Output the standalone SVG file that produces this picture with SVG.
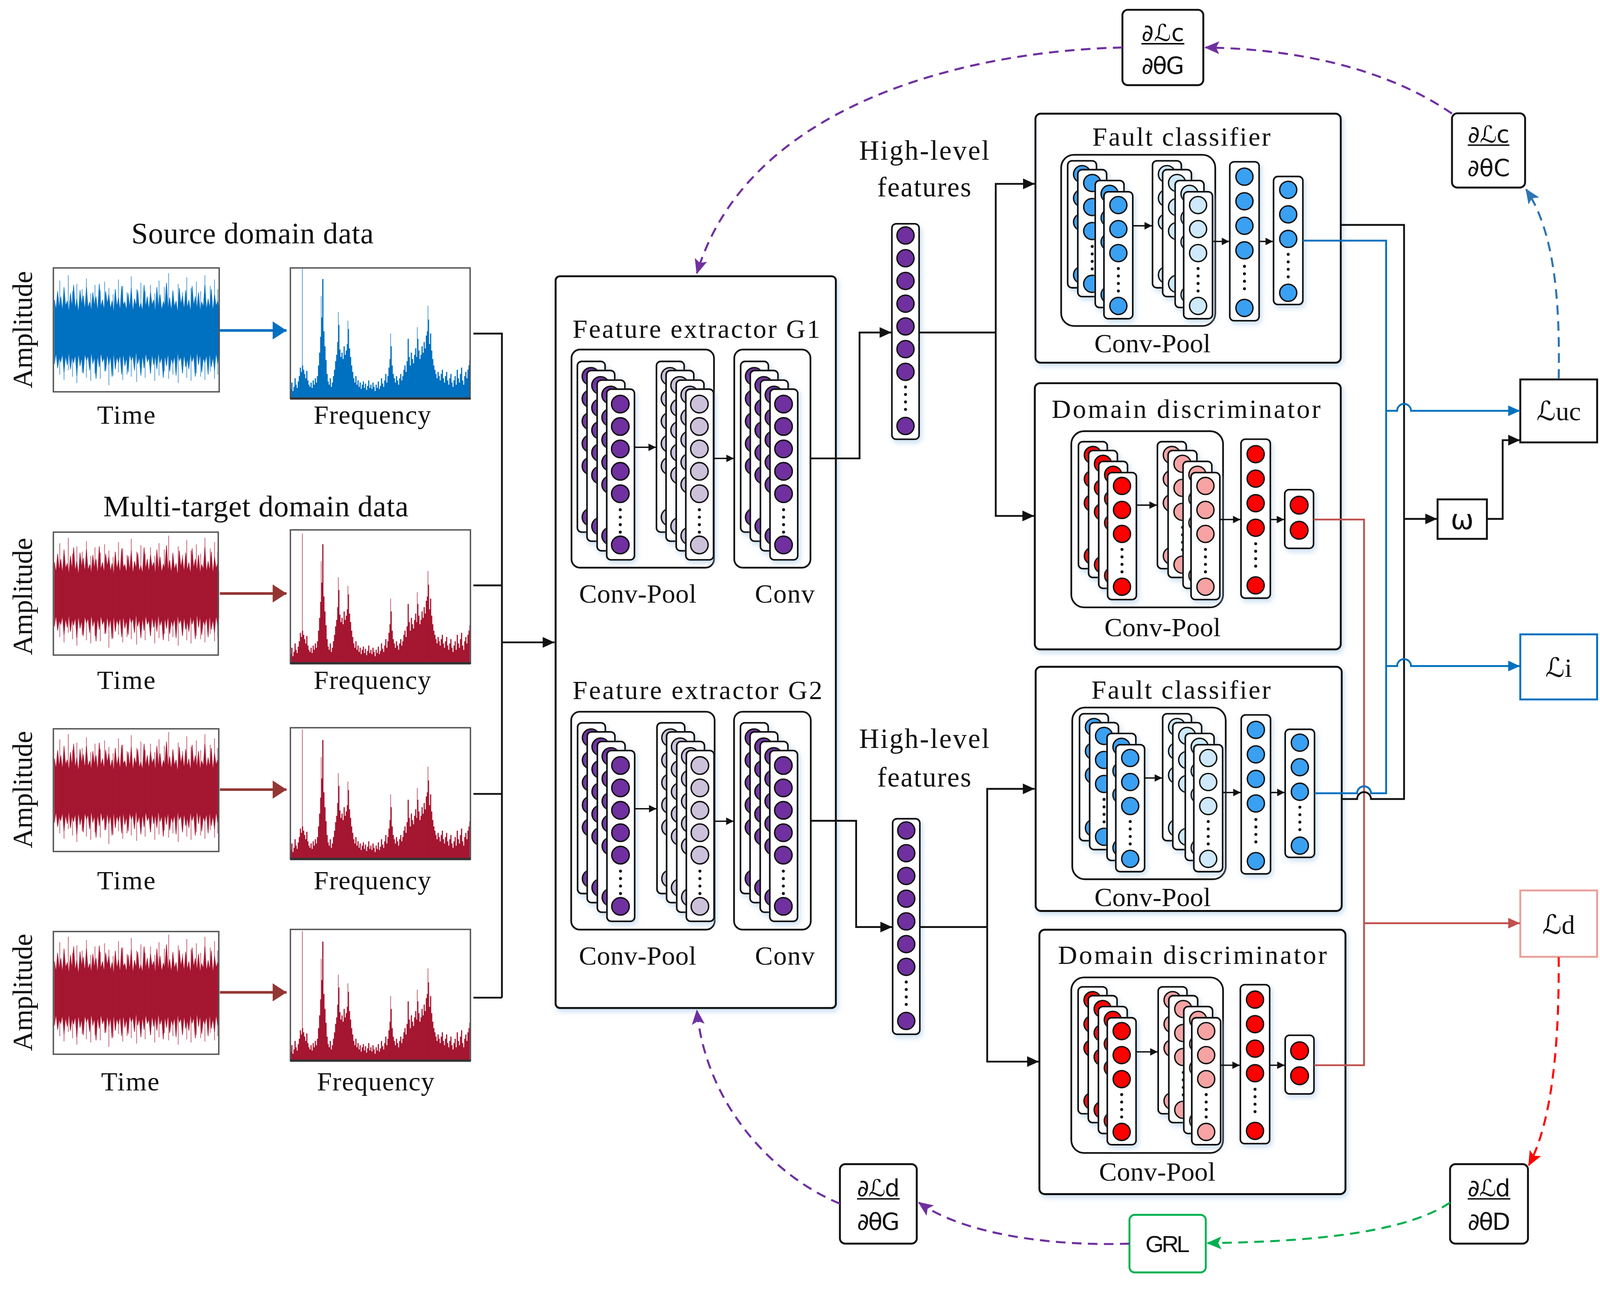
<svg xmlns="http://www.w3.org/2000/svg" width="4284" height="3303" viewBox="0 0 4284 3303">
<defs>
<style>
.t{font-family:"Liberation Serif","Times New Roman",serif;fill:#111;text-anchor:middle}
.s{font-family:"DejaVu Sans","Noto Sans",sans-serif;fill:#111;text-anchor:middle}
.a{font-family:"Liberation Sans",Arial,sans-serif;fill:#111;text-anchor:middle}
.sc{font-family:"DejaVu Serif","DejaVu Sans",serif;font-style:italic}
.cr{fill:#fff;stroke:#111;stroke-width:1.5;filter:url(#sh)}
.nd{stroke:#111;stroke-width:1.3}
.dt{fill:#111}
.box{fill:#fff;stroke:#111;stroke-width:1.8;filter:url(#sh)}
.ib{fill:none;stroke:#111;stroke-width:1.6}
.k{fill:none;stroke:#111;stroke-width:1.7}
.kb{fill:none;stroke:#0070c0;stroke-width:1.7}
.kr{fill:none;stroke:#c0504d;stroke-width:1.7}
.ia{fill:none;stroke:#111;stroke-width:1.3}
.d{fill:none;stroke-width:1.9;stroke-dasharray:9 6}
.pb{fill:none;stroke:#555;stroke-width:1.3}
.ax{stroke:#333;stroke-width:2.2}
.fb{stroke:#111;stroke-width:1.4}
</style>
<filter id="sh" x="-50%" y="-20%" width="200%" height="140%">
<feDropShadow dx="1.5" dy="2.5" stdDeviation="2.5" flood-color="#9dc3e6" flood-opacity="0.55"/>
</filter>
<marker id="mk" markerUnits="userSpaceOnUse" markerWidth="12" markerHeight="10" refX="11" refY="5" orient="auto" overflow="visible"><path d="M0,0L11,5L0,10z" fill="#111"/></marker>
<marker id="mks" markerUnits="userSpaceOnUse" markerWidth="8" markerHeight="7" refX="7" refY="3.5" orient="auto" overflow="visible"><path d="M0,0L7,3.5L0,7z" fill="#111"/></marker>
<marker id="mkb" markerUnits="userSpaceOnUse" markerWidth="12" markerHeight="10" refX="11" refY="5" orient="auto" overflow="visible"><path d="M0,0L11,5L0,10z" fill="#0070c0"/></marker>
<marker id="mkr" markerUnits="userSpaceOnUse" markerWidth="12" markerHeight="10" refX="11" refY="5" orient="auto" overflow="visible"><path d="M0,0L11,5L0,10z" fill="#c0504d"/></marker>
<marker id="mg1" markerUnits="userSpaceOnUse" markerWidth="14" markerHeight="17" refX="13" refY="8.5" orient="auto" overflow="visible"><path d="M0,0L13,8.5L0,17z" fill="#0070c0"/></marker>
<marker id="mg2" markerUnits="userSpaceOnUse" markerWidth="14" markerHeight="17" refX="13" refY="8.5" orient="auto" overflow="visible"><path d="M0,0L13,8.5L0,17z" fill="#943634"/></marker>
<marker id="mdp" markerUnits="userSpaceOnUse" markerWidth="15" markerHeight="12" refX="13" refY="6" orient="auto" overflow="visible"><path d="M0,0L14,6L0,12L3,6z" fill="#7030a0"/></marker>
<marker id="mdb" markerUnits="userSpaceOnUse" markerWidth="15" markerHeight="12" refX="13" refY="6" orient="auto" overflow="visible"><path d="M0,0L14,6L0,12L3,6z" fill="#2e75b6"/></marker>
<marker id="mdr" markerUnits="userSpaceOnUse" markerWidth="15" markerHeight="12" refX="13" refY="6" orient="auto" overflow="visible"><path d="M0,0L14,6L0,12L3,6z" fill="#ff0000"/></marker>
<marker id="mdg" markerUnits="userSpaceOnUse" markerWidth="15" markerHeight="12" refX="13" refY="6" orient="auto" overflow="visible"><path d="M0,0L14,6L0,12L3,6z" fill="#00b050"/></marker>

<g id="cG">
<rect class="cr" width="26" height="160" rx="4"/>
<circle class="nd" cx="12.7" cy="14" r="8.2"/><circle class="nd" cx="12.7" cy="35" r="8.2"/><circle class="nd" cx="12.7" cy="56" r="8.2"/><circle class="nd" cx="12.7" cy="77" r="8.2"/><circle class="nd" cx="12.7" cy="98" r="8.2"/>
<circle class="dt" cx="12.7" cy="113" r="1.4"/><circle class="dt" cx="12.7" cy="120" r="1.4"/><circle class="dt" cx="12.7" cy="127" r="1.4"/><circle class="dt" cx="12.7" cy="134" r="1.4"/>
<circle class="nd" cx="12.7" cy="146" r="8.2"/>
</g>
<g id="sG"><use href="#cG"/><use href="#cG" x="9" y="8.5"/><use href="#cG" x="18.5" y="17.5"/><use href="#cG" x="27.5" y="26"/></g>
<g id="cS">
<rect class="cr" width="27" height="119" rx="4"/>
<circle class="nd" cx="13.5" cy="12.5" r="8"/><circle class="nd" cx="13.5" cy="35" r="8"/><circle class="nd" cx="13.5" cy="57.5" r="8"/>
<circle class="dt" cx="13.5" cy="72" r="1.4"/><circle class="dt" cx="13.5" cy="79" r="1.4"/><circle class="dt" cx="13.5" cy="86" r="1.4"/><circle class="dt" cx="13.5" cy="93" r="1.4"/>
<circle class="nd" cx="13.5" cy="107" r="8"/>
</g>
<g id="sF1"><use href="#cS"/><use href="#cS" x="9.5" y="8.3"/><use href="#cS" x="25.8" y="18.5"/><use href="#cS" x="34" y="29"/></g>
<g id="sF2"><use href="#cS"/><use href="#cS" x="9.5" y="8.3"/><use href="#cS" x="21.2" y="18.5"/><use href="#cS" x="29.2" y="29"/></g>
<g id="sD1"><use href="#cS"/><use href="#cS" x="9.5" y="8.3"/><use href="#cS" x="19" y="18.5"/><use href="#cS" x="27.3" y="29"/></g>
<g id="sD2"><use href="#cS"/><use href="#cS" x="10" y="8.3"/><use href="#cS" x="24" y="18.5"/><use href="#cS" x="31.5" y="29"/></g>
<g id="c3">
<rect class="cr" width="27.5" height="149" rx="4"/>
<circle class="nd" cx="13.75" cy="14" r="8"/><circle class="nd" cx="13.75" cy="37" r="8"/><circle class="nd" cx="13.75" cy="60" r="8"/><circle class="nd" cx="13.75" cy="83" r="8"/>
<circle class="dt" cx="13.75" cy="98" r="1.4"/><circle class="dt" cx="13.75" cy="105" r="1.4"/><circle class="dt" cx="13.75" cy="112" r="1.4"/><circle class="dt" cx="13.75" cy="119" r="1.4"/>
<circle class="nd" cx="13.75" cy="137" r="8"/>
</g>
<g id="c4">
<rect class="cr" width="27.5" height="120" rx="4"/>
<circle class="nd" cx="13.75" cy="12.5" r="8"/><circle class="nd" cx="13.75" cy="35.5" r="8"/><circle class="nd" cx="13.75" cy="58.5" r="8"/>
<circle class="dt" cx="13.75" cy="73" r="1.4"/><circle class="dt" cx="13.75" cy="80" r="1.4"/><circle class="dt" cx="13.75" cy="87" r="1.4"/><circle class="dt" cx="13.75" cy="94" r="1.4"/>
<circle class="nd" cx="13.75" cy="109" r="8"/>
</g>
<g id="c2">
<rect class="cr" width="27" height="55" rx="4"/>
<circle class="nd" cx="13.5" cy="14.5" r="8.3"/><circle class="nd" cx="13.5" cy="38" r="8.3"/>
</g>
<g id="cH">
<rect class="cr" width="25.5" height="202" rx="4"/>
<circle class="nd" cx="12.75" cy="11" r="8"/><circle class="nd" cx="12.75" cy="32.3" r="8"/><circle class="nd" cx="12.75" cy="53.6" r="8"/><circle class="nd" cx="12.75" cy="74.9" r="8"/><circle class="nd" cx="12.75" cy="96.2" r="8"/><circle class="nd" cx="12.75" cy="117.5" r="8"/><circle class="nd" cx="12.75" cy="138.8" r="8"/>
<circle class="dt" cx="12.75" cy="153" r="1.4"/><circle class="dt" cx="12.75" cy="160" r="1.4"/><circle class="dt" cx="12.75" cy="167" r="1.4"/><circle class="dt" cx="12.75" cy="174" r="1.4"/>
<circle class="nd" cx="12.75" cy="189.5" r="8"/>
</g>

<g id="wv">
<polygon stroke-width="0.5" points="0,-30 1.5,-20 3,-38 4.5,-22 6,-33 7.5,-19 9,-41 10.5,-24 12,-29 13.5,-18 15,-36 16.5,-23 18,-44 19.5,-21 21,-31 22.5,-17 24,-39 25.5,-25 27,-34 28.5,-20 30,-42 31.5,-22 33,-28 34.5,-19 36,-37 37.5,-24 39,-33 40.5,-18 42,-45 43.5,-23 45,-30 46.5,-20 48,-38 49.5,-26 51,-35 52.5,-21 54,-29 55.5,-17 57,-40 58.5,-23 60,-32 61.5,-19 63,-43 64.5,-25 66,-28 67.5,-20 69,-36 70.5,-22 72,-41 73.5,-18 75,-31 76.5,-24 78,-39 79.5,-21 81,-27 82.5,-19 84,-44 85.5,-23 87,-33 88.5,-20 90,-37 91.5,-25 93,-30 94.5,-18 96,-42 97.5,-22 99,-35 100.5,-20 102,-28 103.5,-24 105,-46 106.5,-21 108,-32 109.5,-19 111,-38 112.5,-23 114,-29 115.5,-17 117,-41 118.5,-25 120,-34 121.5,-20 123,-39 124.5,-22 126,-30 127.5,-18 129,-43 130.5,-24 132,-33 133.5,-21 135,-37 136.5,-19 138,-28 139.5,-23 141,-44 142.5,-20 144,-31 145.5,-22 147,-40 148.5,-18 150,-35 151.5,-24 153,-29 154,-21 154,22 153,30 151.5,19 150,36 148.5,23 147,33 145.5,18 144,40 142.5,21 141,29 139.5,24 138,38 136.5,20 135,31 133.5,17 132,42 130.5,22 129,28 127.5,19 126,35 124.5,25 123,33 121.5,20 120,39 118.5,23 117,27 115.5,18 114,41 112.5,22 111,30 109.5,24 108,37 106.5,19 105,32 103.5,21 102,43 100.5,23 99,29 97.5,18 96,35 94.5,22 93,31 91.5,20 90,39 88.5,24 87,28 85.5,19 84,34 82.5,21 81,41 79.5,23 78,30 76.5,17 75,36 73.5,22 72,27 70.5,20 69,38 67.5,24 66,32 64.5,19 63,40 61.5,21 60,29 58.5,23 57,35 55.5,18 54,42 52.5,22 51,31 49.5,20 48,37 46.5,24 45,28 43.5,19 42,33 40.5,21 39,44 37.5,23 36,30 34.5,18 33,36 31.5,22 30,27 28.5,20 27,39 25.5,24 24,32 22.5,19 21,41 19.5,21 18,29 16.5,23 15,35 13.5,18 12,31 10.5,22 9,38 7.5,20 6,28 4.5,24 3,34 1.5,19 0,30"/>
<path fill="none" stroke-width="0.8" opacity="0.6" d="M5,-48V40M9,-42V45M13,-53V36M17,-38V42M21,-45V48M26,-40V38M30,-50V43M34,-36V46M38,-44V39M43,-39V44M47,-47V37M51,-41V50M55,-35V41M60,-49V38M64,-43V45M68,-37V40M72,-52V42M77,-40V47M81,-46V36M85,-38V43M90,-44V39M94,-36V46M98,-48V41M103,-42V37M107,-55V44M111,-39V40M116,-45V48M120,-37V38M124,-51V43M128,-41V46M133,-47V39M137,-38V42M141,-53V45M146,-43V37M150,-49V44M153,-40V40"/>
</g>
<g id="sp">
<path fill="none" stroke-width="1.1" d="M0,0v-8M1,0v-14M2,0v-6M3,0v-10M4,0v-18M5,0v-12M6,0v-9M7,0v-15M8,0v-20M9,0v-28M10,0v-24M11,0v-30M12,0v-26M13,0v-22M14,0v-18M15,0v-25M16,0v-16M17,0v-12M18,0v-10M19,0v-14M20,0v-9M21,0v-16M22,0v-12M23,0v-18M24,0v-14M25,0v-20M26,0v-30M27,0v-42M28,0v-57M29,0v-75M30,0v-111M31,0v-62M32,0v-48M33,0v-35M34,0v-22M35,0v-15M36,0v-12M37,0v-18M38,0v-10M39,0v-14M40,0v-20M41,0v-26M42,0v-34M43,0v-40M44,0v-52M45,0v-68M46,0v-45M47,0v-38M48,0v-42M49,0v-36M50,0v-48M51,0v-40M52,0v-44M53,0v-50M54,0v-64M55,0v-46M56,0v-38M57,0v-30M58,0v-24M59,0v-18M60,0v-14M61,0v-20M62,0v-12M63,0v-16M64,0v-10M65,0v-14M66,0v-8M67,0v-12M68,0v-15M69,0v-9M70,0v-13M71,0v-7M72,0v-11M73,0v-16M74,0v-9M75,0v-12M76,0v-8M77,0v-14M78,0v-10M79,0v-6M80,0v-12M81,0v-9M82,0v-15M83,0v-8M84,0v-11M85,0v-18M86,0v-13M87,0v-10M88,0v-16M89,0v-22M90,0v-14M91,0v-20M92,0v-28M93,0v-36M94,0v-48M95,0v-30M96,0v-22M97,0v-18M98,0v-14M99,0v-20M100,0v-16M101,0v-12M102,0v-18M103,0v-22M104,0v-16M105,0v-20M106,0v-26M107,0v-30M108,0v-24M109,0v-34M110,0v-55M111,0v-38M112,0v-30M113,0v-42M114,0v-36M115,0v-32M116,0v-40M117,0v-46M118,0v-38M119,0v-55M120,0v-44M121,0v-36M122,0v-40M123,0v-48M124,0v-42M125,0v-52M126,0v-46M127,0v-58M128,0v-62M129,0v-73M130,0v-50M131,0v-60M132,0v-44M133,0v-36M134,0v-30M135,0v-26M136,0v-22M137,0v-18M138,0v-24M139,0v-20M140,0v-16M141,0v-22M142,0v-26M143,0v-18M144,0v-14M145,0v-20M146,0v-24M147,0v-16M148,0v-12M149,0v-18M150,0v-22M151,0v-14M152,0v-10M153,0v-16M154,0v-20M155,0v-12M156,0v-26M157,0v-18M158,0v-14M159,0v-22M160,0v-28M161,0v-16M162,0v-12M163,0v-20M164,0v-24M165,0v-18M166,0v-26M167,0v-30"/>
<path fill="none" stroke-width="0.8" opacity="0.6" d="M10.8,0V-121M28.5,0v-95M44.5,0v-80M53.5,0v-72M93.5,0v-60M118.5,0v-66M128.5,0v-86M167.5,0v-35"/>
</g>
</defs>
<rect width="4284" height="3303" fill="#fff"/>
<g transform="scale(2.73214)">

<g id="source-data">
<text class="t" x="236.6" y="228" font-size="28" textLength="227">Source domain data</text>
<text class="t" font-size="26" transform="translate(30,309) rotate(-90)" textLength="110">Amplitude</text>
<use href="#wv" x="51" y="311" fill="#0070c0" stroke="#0070c0"/>
<rect class="pb" x="50" y="251.1" width="155.4" height="116.1"/>
<use href="#sp" x="272.5" y="372.5" stroke="#0070c0"/>
<rect class="pb" x="272.1" y="251.1" width="168.4" height="122.3"/>
<line class="ax" x1="272" y1="373.4" x2="441" y2="373.4"/>
<path d="M206,309.7H268.5" stroke="#0070c0" stroke-width="2.4" fill="none" marker-end="url(#mg1)"/>
<text class="t" x="118.3" y="397.2" font-size="25" textLength="54.6">Time</text>
<text class="t" x="348.9" y="397.2" font-size="25" textLength="110">Frequency</text>
</g>

<g id="target-data-1">
<text class="t" x="239.7" y="484" font-size="28" textLength="286">Multi-target domain data</text>
<text class="t" font-size="26" transform="translate(30,559) rotate(-90)" textLength="110">Amplitude</text>
<use href="#wv" x="51" y="557" fill="#a51631" stroke="#a51631"/>
<rect class="pb" x="50" y="498.7" width="154.5" height="115.2"/>
<use href="#sp" x="272.5" y="621" stroke="#a51631"/>
<rect class="pb" x="272.1" y="496.6" width="168.7" height="125"/>
<line class="ax" x1="272" y1="621.6" x2="441" y2="621.6"/>
<path d="M206,556.2H268.5" stroke="#943634" stroke-width="2.4" fill="none" marker-end="url(#mg2)"/>
<text class="t" x="118.3" y="645.8" font-size="25" textLength="54.6">Time</text>
<text class="t" x="348.9" y="645.8" font-size="25" textLength="110">Frequency</text>
</g>

<g id="target-data-2">
<text class="t" font-size="26" transform="translate(30,740) rotate(-90)" textLength="110">Amplitude</text>
<use href="#wv" x="51" y="741" fill="#a51631" stroke="#a51631"/>
<rect class="pb" x="50" y="683" width="155" height="115"/>
<use href="#sp" x="272.5" y="804.5" stroke="#a51631"/>
<rect class="pb" x="272.1" y="682" width="168.7" height="123"/>
<line class="ax" x1="272" y1="805" x2="441" y2="805"/>
<path d="M206,740H268.5" stroke="#943634" stroke-width="2.4" fill="none" marker-end="url(#mg2)"/>
<text class="t" x="118.3" y="833.5" font-size="25" textLength="54.6">Time</text>
<text class="t" x="348.9" y="833.5" font-size="25" textLength="110">Frequency</text>
</g>

<g id="target-data-3">
<text class="t" font-size="26" transform="translate(30,930) rotate(-90)" textLength="110">Amplitude</text>
<use href="#wv" x="51" y="931" fill="#a51631" stroke="#a51631"/>
<rect class="pb" x="50" y="873" width="155" height="115"/>
<use href="#sp" x="272.5" y="993.5" stroke="#a51631"/>
<rect class="pb" x="272.1" y="871" width="168.7" height="123"/>
<line class="ax" x1="272" y1="994" x2="441" y2="994"/>
<path d="M206,930H268.5" stroke="#943634" stroke-width="2.4" fill="none" marker-end="url(#mg2)"/>
<text class="t" x="122" y="1022" font-size="25" textLength="54.6">Time</text>
<text class="t" x="352" y="1022" font-size="25" textLength="110">Frequency</text>
</g>

<g id="feature-extractor">
<rect class="box" x="520.6" y="258.9" width="262.6" height="685.8" rx="4"/>
<text class="t" x="652.5" y="316.5" font-size="25" textLength="232">Feature extractor G1</text>
<rect class="ib" x="535.5" y="327.6" width="133.5" height="204.4" rx="8"/>
<rect class="ib" x="688" y="327.6" width="71.4" height="204.4" rx="8"/>
<use href="#sG" x="541" y="338.7" fill="#7030a0"/>
<use href="#sG" x="615.1" y="338.7" fill="#ccc1da"/>
<use href="#sG" x="694" y="338.7" fill="#7030a0"/>
<path class="ia" d="M594.5,419.2H614.6" marker-end="url(#mks)"/>
<path class="ia" d="M668.6,429.6H687.6" marker-end="url(#mks)"/>
<text class="t" x="597.6" y="564.9" font-size="25" textLength="110">Conv-Pool</text>
<text class="t" x="735.3" y="564.9" font-size="25" textLength="56">Conv</text>
<text class="t" x="653.5" y="655.3" font-size="25" textLength="234">Feature extractor G2</text>
<rect class="ib" x="535.2" y="667" width="134.4" height="204.2" rx="8"/>
<rect class="ib" x="687.8" y="667" width="71.9" height="204.2" rx="8"/>
<use href="#sG" x="541.2" y="677.4" fill="#7030a0"/>
<use href="#sG" x="615.6" y="677.4" fill="#ccc1da"/>
<use href="#sG" x="693.8" y="677.4" fill="#7030a0"/>
<path class="ia" d="M594.7,757.9H615.1" marker-end="url(#mks)"/>
<path class="ia" d="M669,769.6H687.4" marker-end="url(#mks)"/>
<text class="t" x="597.4" y="903.9" font-size="25" textLength="110">Conv-Pool</text>
<text class="t" x="735.4" y="903.9" font-size="25" textLength="56">Conv</text>
</g>

<g id="high-level-features-1">
<text class="t" x="866" y="149.6" font-size="26" textLength="122">High-level</text>
<text class="t" x="866" y="184" font-size="26" textLength="88">features</text>
<use href="#cH" x="835.7" y="209.7" fill="#7030a0"/>
</g>
<g id="high-level-features-2">
<text class="t" x="866" y="700.8" font-size="26" textLength="122">High-level</text>
<text class="t" x="866" y="737" font-size="26" textLength="88">features</text>
<use href="#cH" x="836.4" y="767.3" fill="#7030a0"/>
</g>

<g id="fault-classifier-1">
<rect class="box" x="970.2" y="106.5" width="286.1" height="233.4" rx="5"/>
<text class="t" x="1107" y="136.4" font-size="25" textLength="167">Fault classifier</text>
<rect class="ib" x="994.3" y="145.1" width="144.4" height="160.4" rx="12"/>
<use href="#sF1" x="1000.4" y="150.7" fill="#3aa0f2"/>
<use href="#sF2" x="1079.9" y="150.7" fill="#cde9fb"/>
<use href="#c3" x="1152.3" y="151.6" fill="#3aa0f2"/>
<use href="#c4" x="1193.3" y="165.4" fill="#3aa0f2"/>
<path class="ia" d="M1061.4,211.6H1079.4" marker-end="url(#mks)"/>
<path class="ia" d="M1136.1,226.3H1151.8" marker-end="url(#mks)"/>
<path class="ia" d="M1179.8,226.3H1192.8" marker-end="url(#mks)"/>
<text class="t" x="1079.9" y="330.1" font-size="25" textLength="109">Conv-Pool</text>
</g>

<g id="domain-discriminator-1">
<rect class="box" x="969.6" y="359.1" width="286.7" height="249.5" rx="5"/>
<text class="t" x="1111.4" y="391.5" font-size="25" textLength="252">Domain discriminator</text>
<rect class="ib" x="1003.8" y="404.1" width="142.2" height="165.1" rx="12"/>
<use href="#sD1" x="1010.5" y="413.9" fill="#ff0000"/>
<use href="#sD2" x="1084.5" y="413.9" fill="#f7a3a3"/>
<use href="#c3" x="1162.8" y="411.6" fill="#ff0000"/>
<use href="#c2" x="1203.8" y="458.9" fill="#ff0000"/>
<path class="ia" d="M1064.8,473.4H1084" marker-end="url(#mks)"/>
<path class="ia" d="M1143,486.9H1162.3" marker-end="url(#mks)"/>
<path class="ia" d="M1190.3,486.9H1203.3" marker-end="url(#mks)"/>
<text class="t" x="1089.3" y="596.4" font-size="25" textLength="109">Conv-Pool</text>
</g>

<g id="fault-classifier-2">
<rect class="box" x="970.4" y="624.9" width="286.8" height="228.8" rx="5"/>
<text class="t" x="1106.6" y="654.7" font-size="25" textLength="168">Fault classifier</text>
<rect class="ib" x="1004.7" y="663.1" width="143.8" height="160.9" rx="12"/>
<use href="#sF1" x="1011.5" y="668.9" fill="#3aa0f2"/>
<use href="#sF2" x="1089.4" y="668.9" fill="#cde9fb"/>
<use href="#c3" x="1163" y="670" fill="#3aa0f2"/>
<use href="#c4" x="1204.2" y="683.5" fill="#3aa0f2"/>
<path class="ia" d="M1072.5,729.1H1088.9" marker-end="url(#mks)"/>
<path class="ia" d="M1145.6,742.7H1162.5" marker-end="url(#mks)"/>
<path class="ia" d="M1190.5,742.7H1203.7" marker-end="url(#mks)"/>
<text class="t" x="1080" y="849.3" font-size="25" textLength="109">Conv-Pool</text>
</g>

<g id="domain-discriminator-2">
<rect class="box" x="973.9" y="871.3" width="286.8" height="247.8" rx="5"/>
<text class="t" x="1117.3" y="903.5" font-size="25" textLength="252">Domain discriminator</text>
<rect class="ib" x="1003.8" y="916" width="142.2" height="164.5" rx="12"/>
<use href="#sD1" x="1010.2" y="924.8" fill="#ff0000"/>
<use href="#sD2" x="1085.2" y="924.8" fill="#f7a3a3"/>
<use href="#c3" x="1162.2" y="922.8" fill="#ff0000"/>
<use href="#c2" x="1204.2" y="970.2" fill="#ff0000"/>
<path class="ia" d="M1064.5,985.8H1084.7" marker-end="url(#mks)"/>
<path class="ia" d="M1143.7,998.3H1161.7" marker-end="url(#mks)"/>
<path class="ia" d="M1189.7,998.3H1203.7" marker-end="url(#mks)"/>
<text class="t" x="1084.3" y="1106.6" font-size="25" textLength="109">Conv-Pool</text>
</g>

<g id="loss-uc">
<rect x="1424.5" y="355.6" width="72" height="59" fill="#fff" stroke="#111" stroke-width="1.8"/>
<text class="t" x="1460.5" y="394" font-size="25"><tspan class="sc">ℒ</tspan>uc</text>
</g>
<g id="loss-i">
<rect x="1424.5" y="594.5" width="72" height="61" fill="#fff" stroke="#0070c0" stroke-width="1.8"/>
<text class="t" x="1460.5" y="634.4" font-size="25"><tspan class="sc">ℒ</tspan>i</text>
</g>
<g id="loss-d">
<rect x="1424.5" y="834.5" width="72" height="62.2" fill="#fff" stroke="#e6a19b" stroke-width="1.8"/>
<text class="t" x="1460.5" y="875" font-size="25"><tspan class="sc">ℒ</tspan>d</text>
</g>
<g id="omega">
<rect x="1347" y="468" width="46.2" height="37" fill="#fff" stroke="#111" stroke-width="1.8"/>
<text class="s" x="1370.1" y="496" font-size="26">ω</text>
</g>

<g id="grad-Lc-G">
<rect x="1051.7" y="9.2" width="75.8" height="70.6" rx="5" fill="#fff" stroke="#111" stroke-width="1.8"/>
<text class="s" x="1089.6" y="38.5" font-size="22" textLength="40">∂<tspan class="sc">ℒ</tspan>c</text>
<line class="fb" x1="1069.5" y1="41" x2="1109.7" y2="41"/>
<text class="s" x="1089.6" y="69" font-size="22" textLength="40">∂θG</text>
</g>
<g id="grad-Lc-C">
<rect x="1360.5" y="106.2" width="68.5" height="69.6" rx="5" fill="#fff" stroke="#111" stroke-width="1.8"/>
<text class="s" x="1394.8" y="133.5" font-size="22" textLength="39">∂<tspan class="sc">ℒ</tspan>c</text>
<line class="fb" x1="1375.3" y1="136" x2="1414.3" y2="136"/>
<text class="s" x="1394.8" y="165" font-size="22" textLength="40">∂θC</text>
</g>
<g id="grad-Ld-D">
<rect x="1358.7" y="1091" width="73" height="74.5" rx="5" fill="#fff" stroke="#111" stroke-width="1.8"/>
<text class="s" x="1395.2" y="1121" font-size="22" textLength="40">∂<tspan class="sc">ℒ</tspan>d</text>
<line class="fb" x1="1375.2" y1="1123.5" x2="1415.2" y2="1123.5"/>
<text class="s" x="1395.2" y="1152.5" font-size="22" textLength="40">∂θD</text>
</g>
<g id="grad-Ld-G">
<rect x="787" y="1091" width="72" height="74.5" rx="5" fill="#fff" stroke="#111" stroke-width="1.8"/>
<text class="s" x="823" y="1121" font-size="22" textLength="40">∂<tspan class="sc">ℒ</tspan>d</text>
<line class="fb" x1="803" y1="1123.5" x2="843" y2="1123.5"/>
<text class="s" x="823" y="1152.5" font-size="22" textLength="40">∂θG</text>
</g>
<g id="GRL">
<rect x="1058.3" y="1138.5" width="71.5" height="54" rx="5" fill="#fff" stroke="#00b050" stroke-width="1.8"/>
<text class="a" x="1094" y="1173.4" font-size="22" textLength="41.5">GRL</text>
</g>

<g id="connectors">
<path class="k" d="M443.6,312.6H470.3V935M443.6,548.6H470.3M443.6,744H470.3M443.6,935H470.3"/>
<path class="k" d="M470.3,602H519.5" marker-end="url(#mk)"/>
<path class="k" d="M759.4,429.6H805.4V311.6H835.2" marker-end="url(#mk)"/>
<path class="k" d="M759.7,769.2H802.2V868.8H835.9" marker-end="url(#mk)"/>
<path class="k" d="M861.4,311.6H933"/>
<path class="k" d="M933,311.6V172.3H969.6" marker-end="url(#mk)"/>
<path class="k" d="M933,311.6V483.5H969" marker-end="url(#mk)"/>
<path class="k" d="M861.3,868.8H925"/>
<path class="k" d="M925,868.8V739.3H969.4" marker-end="url(#mk)"/>
<path class="k" d="M925,868.8V994.9H973.4" marker-end="url(#mk)"/>

<path class="kr" d="M1230.8,486.9H1278.1V998.3H1231.2"/>
<path class="kr" d="M1278.1,865.2H1424.2" marker-end="url(#mkr)"/>

<path class="k" d="M1256.3,210.8H1315.6V748.8H1284.6A6.5,6.5 0 0 0 1271.6,748.8H1257.2"/>
<path class="k" d="M1315.6,486.3H1346.5" marker-end="url(#mk)"/>
<path class="k" d="M1393.2,486.3H1408V412.5H1424.2" marker-end="url(#mk)"/>

<path class="kb" d="M1220.8,225.5H1298.8V743.4H1284.6A6.5,6.5 0 0 0 1271.6,743.4H1231.7"/>
<path class="kb" d="M1298.8,385H1309.1A6.5,6.5 0 0 1 1322.1,385H1424.2" marker-end="url(#mkb)"/>
<path class="kb" d="M1298.8,624.2H1309.1A6.5,6.5 0 0 1 1322.1,624.2H1424.2" marker-end="url(#mkb)"/>

<path class="d" stroke="#7030a0" d="M1051.7,44.5C900,48 700,100 653,256" marker-end="url(#mdp)"/>
<path class="d" stroke="#7030a0" d="M1360.5,106.5C1305,68 1225,46 1129.5,44.5" marker-end="url(#mdp)"/>
<path class="d" stroke="#2e75b6" d="M1460.5,355C1462,275 1455,215 1430,177.5" marker-end="url(#mdb)"/>
<path class="d" stroke="#ff0000" d="M1460.5,897C1461,975 1455,1050 1432.5,1092" marker-end="url(#mdr)"/>
<path class="d" stroke="#00b050" d="M1358.7,1127C1310,1160 1200,1164 1131.5,1165" marker-end="url(#mdg)"/>
<path class="d" stroke="#7030a0" d="M1058.3,1165.5C990,1168 905,1158 861,1127" marker-end="url(#mdp)"/>
<path class="d" stroke="#7030a0" d="M787,1128C730,1105 662,1040 653,947" marker-end="url(#mdp)"/>
</g>
</g>
</svg>
